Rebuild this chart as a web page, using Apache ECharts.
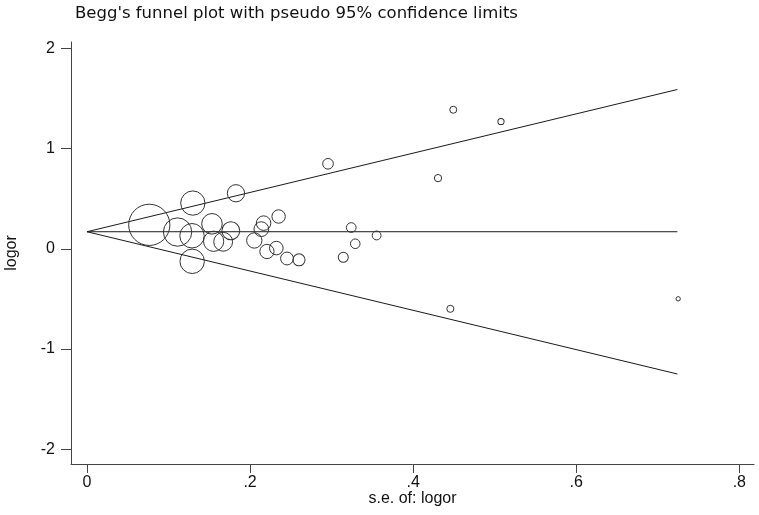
<!DOCTYPE html>
<html>
<head>
<meta charset="utf-8">
<script src="https://cdn.jsdelivr.net/npm/echarts@6/dist/echarts.min.js"></script>
<style>html,body{margin:0;padding:0;background:#fff;}#c{width:759px;height:515px;}</style>
</head>
<body>
<div id="c"></div>
<script>
// Study standard errors (x) and log odds ratios (y)
const seValues = [0.0764, 0.1298, 0.1111, 0.1288, 0.129, 0.1533, 0.1553, 0.167, 0.1764, 0.1827,
  0.2052, 0.2166, 0.2138, 0.235, 0.2207, 0.2322, 0.2453, 0.26, 0.2956, 0.3241,
  0.329, 0.3143, 0.3552, 0.4305, 0.4492, 0.4456, 0.5077, 0.725];
const logorValues = [0.239, 0.456, 0.167, 0.130, -0.125, 0.249, 0.075, 0.07, 0.18, 0.554,
  0.083, 0.256, 0.196, 0.322, -0.027, 0.007, -0.097, -0.11, 0.848, 0.212,
  0.05, -0.085, 0.133, 0.705, 1.387, -0.599, 1.27, -0.499];
// Pseudo 95% confidence limits (endpoints)
const pooledLine = [[0, 0.17], [0.724, 0.17]];
const upperLimit = [[0, 0.17], [0.724, 1.589]];
const lowerLimit = [[0, 0.17], [0.724, -1.249]];
const xTicks = [0, 0.2, 0.4, 0.6, 0.8];
const yTicks = [-2, -1, 0, 1, 2];

const points = seValues.map((s, i) => [s, logorValues[i]]);
const FONT = 'Liberation Sans, Arial, sans-serif';
const lineStyle = {color: '#1a1a1a', width: 1};

const chart = echarts.init(document.getElementById('c'), null, {renderer: 'canvas'});
chart.setOption({
  animation: false,
  backgroundColor: '#fff',
  title: {
    text: "Begg's funnel plot with pseudo 95% confidence limits",
    left: 70, top: 0,
    textStyle: {fontFamily: 'DejaVu Sans, Verdana, sans-serif', fontSize: 16.5, fontWeight: 'normal', color: '#111'}
  },
  grid: {left: 71, right: 5, top: 42, bottom: 51, containLabel: false, outerBoundsMode: 'none'},
  xAxis: {
    type: 'value', min: -0.0196, max: 0.818,
    name: 's.e. of: logor', nameLocation: 'middle', nameGap: 27, nameMoveOverlap: false,
    nameTextStyle: {fontFamily: FONT, fontSize: 16, color: '#111'},
    axisLine: {show: true, onZero: false, lineStyle: {color: '#444', width: 1}},
    axisTick: {show: true, length: 9, customValues: xTicks, lineStyle: {color: '#444'}},
    axisLabel: {customValues: xTicks, margin: 11, fontFamily: FONT, fontSize: 16, color: '#111',
      formatter: v => (Math.abs(v) < 1e-9 ? '0' : String(+v.toFixed(1)).replace(/^0\./, '.'))},
    splitLine: {show: false}
  },
  yAxis: {
    type: 'value', min: -2.147, max: 2.063,
    name: 'logor', nameLocation: 'middle', nameGap: 51, nameRotate: 90,
    nameTextStyle: {fontFamily: FONT, fontSize: 16, color: '#111'},
    axisLine: {show: true, onZero: false, lineStyle: {color: '#444', width: 1}},
    axisTick: {show: true, length: 10, customValues: yTicks, lineStyle: {color: '#444'}},
    axisLabel: {customValues: yTicks, margin: 16, fontFamily: FONT, fontSize: 16, color: '#111',
      formatter: v => String(Math.round(v))},
    splitLine: {show: false}
  },
  series: [
    {type: 'line', data: pooledLine, symbol: 'none', lineStyle: lineStyle, silent: true},
    {type: 'line', data: upperLimit, symbol: 'none', lineStyle: lineStyle, silent: true},
    {type: 'line', data: lowerLimit, symbol: 'none', lineStyle: lineStyle, silent: true},
    {
      type: 'scatter', data: points, symbol: 'circle',
      symbolSize: v => 3.15 / v[0],
      itemStyle: {color: 'rgba(0,0,0,0)', borderColor: '#333', borderWidth: 1, opacity: 1},
      z: 5
    }
  ]
});
</script>
</body>
</html>
